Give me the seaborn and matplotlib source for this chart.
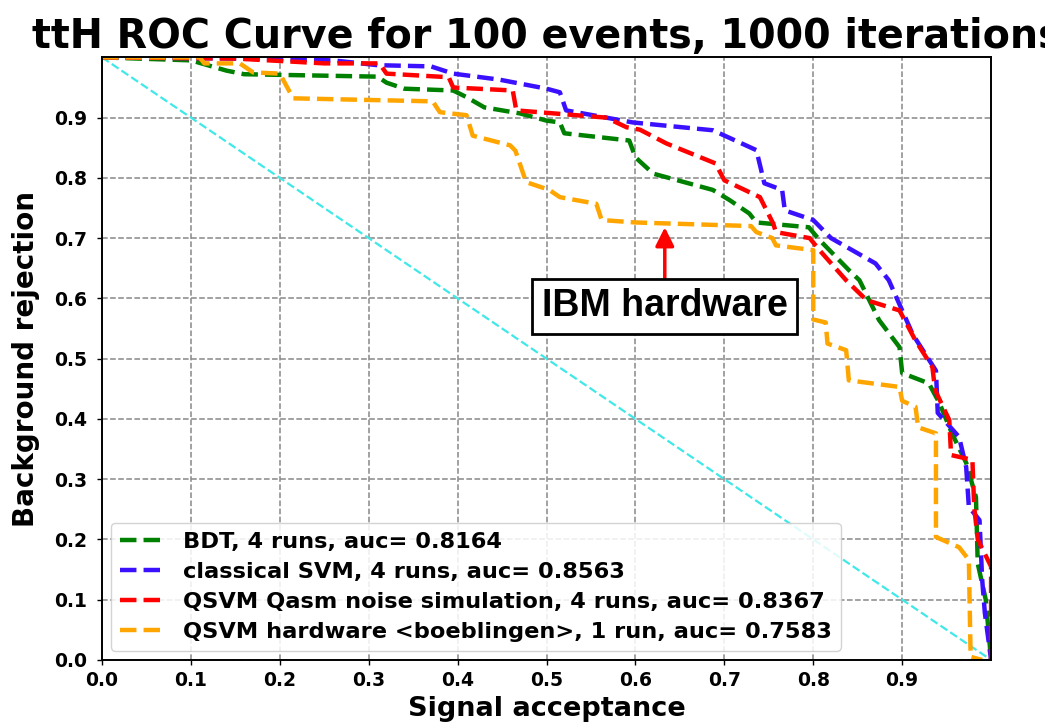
import matplotlib
matplotlib.use("Agg")
import matplotlib.pyplot as plt
import seaborn as sns
import pandas as pd

# ---- data ----
bdt_x = [0, 0.10, 0.14, 0.16, 0.31, 0.32, 0.34, 0.395, 0.41, 0.43, 0.47, 0.50, 0.515, 0.52,
         0.593, 0.60, 0.62, 0.687, 0.706, 0.728, 0.736, 0.795, 0.807, 0.84, 0.852, 0.874,
         0.897, 0.90, 0.93, 0.942, 0.956, 0.972, 0.983, 0.985, 0.994, 1.0]
bdt_y = [1.0, 0.995, 0.978, 0.972, 0.968, 0.958, 0.948, 0.945, 0.934, 0.917, 0.907, 0.895,
         0.892, 0.874, 0.862, 0.834, 0.807, 0.78, 0.763, 0.741, 0.726, 0.718, 0.697, 0.647,
         0.63, 0.564, 0.519, 0.476, 0.459, 0.426, 0.376, 0.327, 0.27, 0.16, 0.1, 0.0]

svm_x = [0, 0.155, 0.26, 0.31, 0.37, 0.395, 0.447, 0.50, 0.515, 0.522, 0.597, 0.687, 0.736,
         0.745, 0.765, 0.768, 0.80, 0.82, 0.87, 0.885, 0.897, 0.912, 0.938, 0.94, 0.964,
         0.972, 0.975, 0.987, 0.99, 0.993, 1.0]
svm_y = [1.0, 0.998, 0.995, 0.987, 0.985, 0.973, 0.963, 0.948, 0.942, 0.912, 0.892, 0.879,
         0.846, 0.791, 0.78, 0.746, 0.73, 0.70, 0.658, 0.63, 0.59, 0.54, 0.48, 0.41, 0.37,
         0.32, 0.254, 0.232, 0.133, 0.078, 0.0]

qsim_x = [0, 0.15, 0.25, 0.312, 0.32, 0.39, 0.395, 0.462, 0.466, 0.567, 0.59, 0.605, 0.635,
          0.69, 0.70, 0.74, 0.755, 0.758, 0.796, 0.807, 0.837, 0.86, 0.897, 0.915, 0.934,
          0.937, 0.953, 0.955, 0.979, 0.981, 0.985, 1.0, 1.0]
qsim_y = [1.0, 0.998, 0.99, 0.99, 0.973, 0.967, 0.95, 0.945, 0.912, 0.90, 0.884, 0.88, 0.857,
          0.824, 0.796, 0.768, 0.724, 0.71, 0.70, 0.68, 0.63, 0.597, 0.58, 0.53, 0.486, 0.448,
          0.398, 0.34, 0.332, 0.254, 0.2, 0.155, 0.0]

hw_x = [0, 0.11, 0.115, 0.155, 0.17, 0.20, 0.215, 0.372, 0.38, 0.41, 0.417, 0.459, 0.465,
        0.477, 0.503, 0.515, 0.556, 0.562, 0.60, 0.73, 0.736, 0.754, 0.758, 0.80, 0.80,
        0.814, 0.816, 0.837, 0.84, 0.897, 0.90, 0.915, 0.918, 0.938, 0.938, 0.964, 0.975,
        0.977, 0.99]
hw_y = [1.0, 1.0, 0.99, 0.99, 0.975, 0.973, 0.932, 0.927, 0.909, 0.904, 0.87, 0.854, 0.845,
        0.793, 0.78, 0.768, 0.757, 0.73, 0.726, 0.72, 0.71, 0.70, 0.688, 0.68, 0.565, 0.56,
        0.525, 0.514, 0.464, 0.453, 0.43, 0.42, 0.386, 0.376, 0.204, 0.187, 0.166, 0.005, 0.0]

diag_x = [0.0, 1.0]
diag_y = [1.0, 0.0]

labels = ["BDT, 4 runs, auc= 0.8164",
          "classical SVM, 4 runs, auc= 0.8563",
          "QSVM Qasm noise simulation, 4 runs, auc= 0.8367",
          "QSVM hardware <boeblingen>, 1 run, auc= 0.7583"]
colors = ["green", "#3a10ff", "red", "orange"]
series = [(bdt_x, bdt_y), (svm_x, svm_y), (qsim_x, qsim_y), (hw_x, hw_y)]

ticks = [0.0, 0.1, 0.2, 0.3, 0.4, 0.5, 0.6, 0.7, 0.8, 0.9]
tick_labels = ["0.0", "0.1", "0.2", "0.3", "0.4", "0.5", "0.6", "0.7", "0.8", "0.9"]

title = "ttH ROC Curve for 100 events, 1000 iterations"
annot_text = "IBM hardware"
annot_xy = (0.633, 0.718)
annot_text_xy = (0.633, 0.587)

# ---- style ----
sns.set_style("white")
plt.rcParams["font.family"] = ["DejaVu Sans"]
plt.rcParams["font.weight"] = "bold"
plt.rcParams["text.color"] = "black"
plt.rcParams["axes.labelcolor"] = "black"
plt.rcParams["xtick.color"] = "black"
plt.rcParams["ytick.color"] = "black"

fig = plt.figure(figsize=(10.45, 7.26), dpi=100)
ax = fig.add_axes([0.0976, 0.091, 0.8508, 0.830])

sns.lineplot(x=diag_x, y=diag_y, ax=ax, color="#40e8e8", lw=1.6, linestyle="--",
             sort=False, estimator=None, legend=False)

for (xs, ys), lab, col in zip(series, labels, colors):
    df = pd.DataFrame({"x": xs, "y": ys})
    sns.lineplot(data=df, x="x", y="y", ax=ax, color=col, lw=3.2, linestyle="--",
                 sort=False, estimator=None, label=lab)

ax.set_xlim(0, 1)
ax.set_ylim(0, 1)
ax.set_xticks(ticks)
ax.set_xticklabels(tick_labels, fontsize=13.5, fontweight="bold")
ax.set_yticks(ticks)
ax.set_yticklabels(tick_labels, fontsize=13.5, fontweight="bold")
ax.tick_params(axis="both", direction="out", length=3.5, width=1, colors="black",
               bottom=True, left=True)
ax.tick_params(axis="x", pad=4.5)
ax.tick_params(axis="y", pad=7)
ax.grid(True, linestyle="--", color="#888888", lw=1.1)
for s in ax.spines.values():
    s.set_color("black")
    s.set_linewidth(1.4)

ax.set_xlabel("Signal acceptance", fontsize=19.5, fontweight="bold", labelpad=4, color="black")
ax.set_ylabel("Background rejection", fontsize=20, fontweight="bold", labelpad=10, color="black")
ax.set_title(title, fontsize=28.5, fontweight="bold", pad=7, color="black")

leg = ax.legend(loc="lower left", fontsize=16.2, handlelength=2.0, frameon=True,
                framealpha=0.85, borderaxespad=0.4, labelspacing=0.45)
for t in leg.get_texts():
    t.set_fontweight("bold")
    t.set_color("black")

ax.annotate(annot_text, xy=annot_xy, xytext=annot_text_xy, xycoords="data",
            ha="center", va="center", fontsize=27, fontweight="bold", color="black",
            family=["Liberation Sans", "DejaVu Sans"],
            bbox=dict(boxstyle="square,pad=0.25", fc="white", ec="black", lw=2),
            arrowprops=dict(arrowstyle="-|>", color="red", lw=2.5, mutation_scale=28,
                            shrinkA=0, shrinkB=0))

fig.savefig("out.png", dpi=100)
